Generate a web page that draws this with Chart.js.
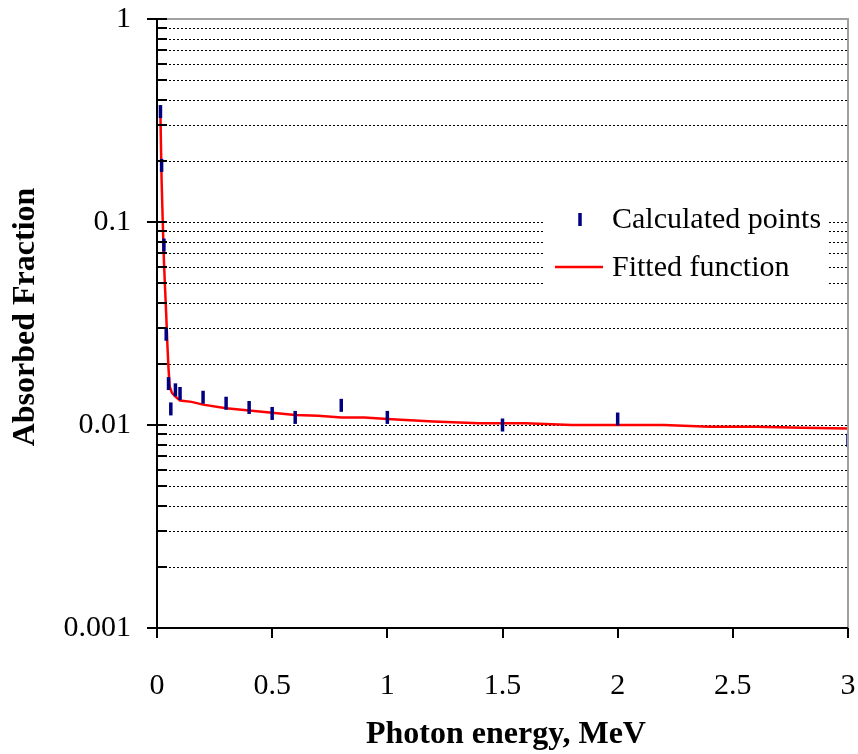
<!DOCTYPE html>
<html>
<head>
<meta charset="utf-8">
<script src="https://cdn.jsdelivr.net/npm/chart.js@4"></script>
<style>
  html, body { margin: 0; padding: 0; background: #fff; }
  canvas { display: block; }
</style>
</head>
<body>
<canvas id="chart" width="858" height="754"></canvas>
<script>
// calculated points (MeV, absorbed fraction)
const pointEnergy = [0.015, 0.02, 0.03, 0.04, 0.05, 0.06, 0.08, 0.1, 0.2, 0.3, 0.4, 0.5, 0.6, 0.8, 1.0, 1.5, 2.0, 3.0];
const pointFraction = [0.35, 0.19, 0.077, 0.028, 0.016, 0.012, 0.0149, 0.0143, 0.0137, 0.0128, 0.0122, 0.0114, 0.0109, 0.0125, 0.0109, 0.0100, 0.0107, 0.0084];

// fitted function
const fitEnergy = [0.015, 0.02, 0.025, 0.03, 0.035, 0.04, 0.045, 0.05, 0.055, 0.065, 0.08, 0.1,
  0.15, 0.2, 0.3, 0.4, 0.5, 0.6, 0.7, 0.8, 0.9, 1.0,
  1.2, 1.4, 1.6, 1.8, 2.0, 2.2, 2.4, 2.6, 2.8, 3.0];
const fitFraction = [0.33, 0.16, 0.1, 0.065, 0.047, 0.035, 0.025, 0.019, 0.0155, 0.0144, 0.0138, 0.0132,
  0.0130, 0.0126, 0.0121, 0.0118, 0.0115, 0.0112, 0.0111, 0.0109, 0.0109, 0.0107,
  0.0104, 0.0102, 0.0102, 0.0100, 0.0100, 0.0100, 0.0098, 0.0098, 0.0097, 0.0096];

const yTickValues = [0.001, 0.01, 0.1, 1];
const xTickValues = [0, 0.5, 1, 1.5, 2, 2.5, 3];

const FONT = '"Liberation Serif", "Times New Roman", serif';

// dotted minor grid, drawn before the data
const gridPlugin = {
  id: 'grid',
  beforeDatasetsDraw(chart) {
    const { ctx, chartArea: a, scales: { y } } = chart;
    ctx.save();
    ctx.strokeStyle = '#000';
    ctx.lineWidth = 1;
    ctx.setLineDash([2, 2]);
    for (let d = 0.001; d < 0.5; d *= 10) {
      for (let m = 1; m <= 9; m++) {
        const v = d * m;
        if (v <= 0.0011) continue;
        const py = Math.round(y.getPixelForValue(v)) + 0.5;
        ctx.beginPath();
        ctx.moveTo(a.left, py);
        ctx.lineTo(a.right, py);
        ctx.stroke();
      }
    }
    ctx.restore();
  }
};

// axes, ticks, legend and titles
const decorPlugin = {
  id: 'decor',
  afterDatasetsDraw(chart) {
    const { ctx, chartArea: a, scales: { x, y } } = chart;
    ctx.save();

    // legend (white box over the grid)
    ctx.fillStyle = '#fff';
    ctx.fillRect(545, 193, 284, 100);
    ctx.strokeStyle = '#000080';
    ctx.lineWidth = 3.5;
    ctx.beginPath();
    ctx.moveTo(580, 213);
    ctx.lineTo(580, 226);
    ctx.stroke();
    ctx.strokeStyle = '#ff0000';
    ctx.lineWidth = 2.5;
    ctx.beginPath();
    ctx.moveTo(555, 267);
    ctx.lineTo(603, 267);
    ctx.stroke();
    ctx.fillStyle = '#000';
    ctx.font = '30px ' + FONT;
    ctx.textAlign = 'left';
    ctx.textBaseline = 'middle';
    ctx.fillText('Calculated points', 612, 220);
    ctx.fillText('Fitted function', 612, 268);

    // grey frame top + right
    ctx.strokeStyle = '#a0a0a0';
    ctx.lineWidth = 2;
    ctx.beginPath();
    ctx.moveTo(a.left, a.top);
    ctx.lineTo(a.right, a.top);
    ctx.lineTo(a.right, a.bottom);
    ctx.stroke();

    // axis lines
    ctx.strokeStyle = '#000';
    ctx.beginPath();
    ctx.moveTo(a.left, a.top);
    ctx.lineTo(a.left, a.bottom);
    ctx.lineTo(a.right, a.bottom);
    ctx.stroke();

    // y ticks
    for (let d = 0.001; d < 2; d *= 10) {
      for (let m = 1; m <= 9; m++) {
        const v = d * m;
        if (v > 1.0001) break;
        const py = Math.round(y.getPixelForValue(v));
        ctx.beginPath();
        ctx.moveTo(m === 1 ? a.left - 10 : a.left, py);
        ctx.lineTo(a.left + 10, py);
        ctx.stroke();
      }
    }
    // x ticks
    xTickValues.forEach(v => {
      const px = Math.round(x.getPixelForValue(v));
      ctx.beginPath();
      ctx.moveTo(px, a.bottom);
      ctx.lineTo(px, a.bottom + 10);
      ctx.stroke();
    });

    // axis titles
    ctx.font = 'bold 32px ' + FONT;
    ctx.textAlign = 'center';
    ctx.fillText('Photon energy, MeV', 506, 735);
    ctx.translate(26, 317);
    ctx.rotate(-Math.PI / 2);
    ctx.fillText('Absorbed Fraction', 0, 0);
    ctx.restore();
  }
};

const points = pointEnergy.map((e, i) => ({ x: e, y: pointFraction[i] }));
const fit = fitEnergy.map((e, i) => ({ x: e, y: fitFraction[i] }));

new Chart(document.getElementById('chart'), {
  type: 'scatter',
  data: {
    datasets: [
      {
        label: 'Fitted function',
        data: fit,
        showLine: true,
        borderColor: '#ff0000',
        borderWidth: 2.5,
        pointRadius: 0,
        tension: 0,
        order: 2
      },
      {
        label: 'Calculated points',
        data: points,
        pointStyle: 'line',
        rotation: 90,
        pointRadius: 6.5,
        borderColor: '#000080',
        backgroundColor: '#000080',
        pointBorderWidth: 3.5,
        borderWidth: 3.5,
        order: 1
      }
    ]
  },
  options: {
    responsive: false,
    animation: false,
    devicePixelRatio: 1,
    layout: { padding: { top: 19, right: 8, left: 0, bottom: 0 } },
    plugins: {
      legend: { display: false },
      tooltip: { enabled: false }
    },
    scales: {
      x: {
        type: 'linear',
        min: 0,
        max: 3,
        afterFit: s => { s.height = 126; s.paddingLeft = 0; s.paddingRight = 0; },
        afterBuildTicks: s => { s.ticks = xTickValues.map(v => ({ value: v })); },
        grid: { display: false, drawTicks: false },
        border: { display: false },
        ticks: {
          padding: 40,
          color: '#000',
          font: { family: FONT, size: 30 },
          callback: v => String(v)
        }
      },
      y: {
        type: 'logarithmic',
        min: 0.001,
        max: 1,
        afterFit: s => { s.width = 157; s.paddingTop = 0; s.paddingBottom = 0; },
        afterBuildTicks: s => { s.ticks = yTickValues.map(v => ({ value: v })); },
        grid: { display: false, drawTicks: false },
        border: { display: false },
        ticks: {
          padding: 26,
          color: '#000',
          font: { family: FONT, size: 30 },
          callback: v => String(v)
        }
      }
    }
  },
  plugins: [gridPlugin, decorPlugin]
});
</script>
</body>
</html>
